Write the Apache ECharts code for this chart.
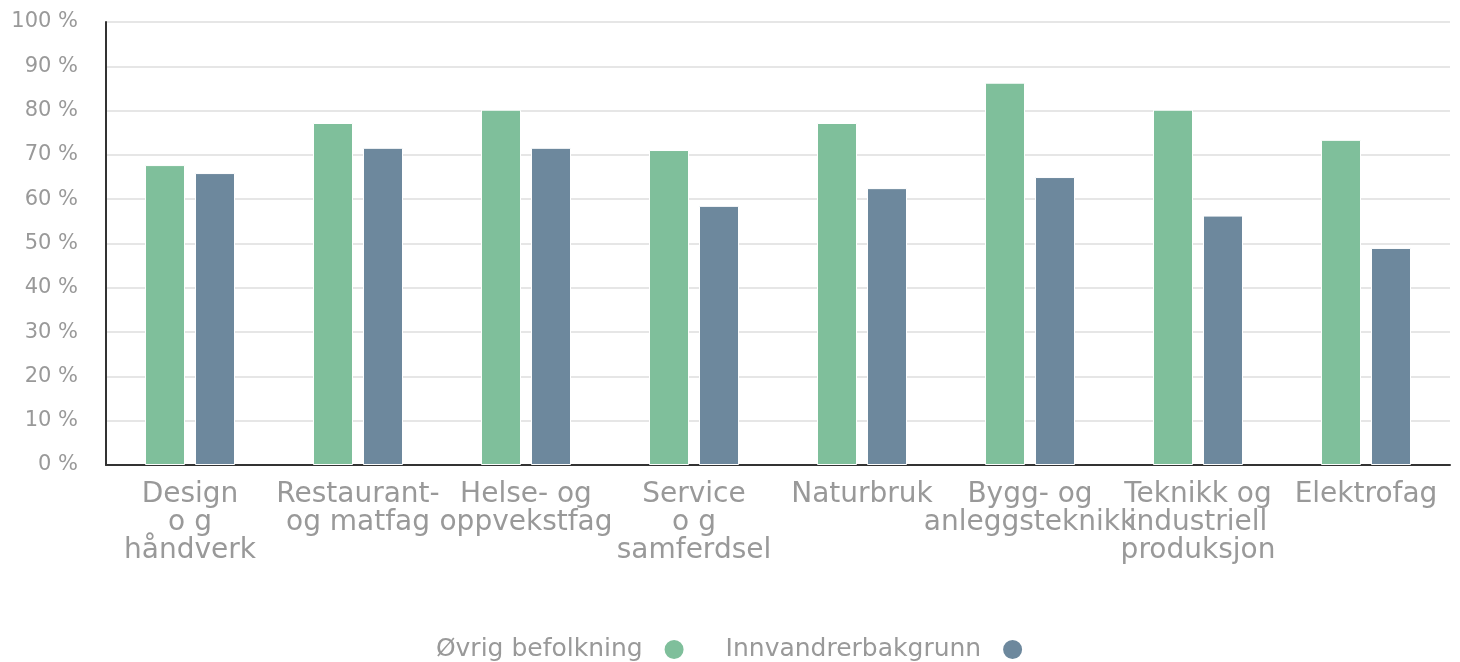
<!DOCTYPE html>
<html>
<head>
<meta charset="utf-8">
<script src="https://cdn.jsdelivr.net/npm/echarts@6/dist/echarts.min.js"></script>
<style>
  html, body { margin: 0; padding: 0; background: #fff; }
  #chart { width: 1460px; height: 662px; }
</style>
</head>
<body>
<div id="chart"></div>
<script>
// kategorier (linjeskift som i originalen)
const categories = [
    "Design\no g\nhåndverk",
    "Restaurant-\nog matfag",
    "Helse- og\noppvekstfag",
    "Service\no g\nsamferdsel",
    "Naturbruk",
    "Bygg- og\nanleggsteknikk",
    "Teknikk og\nindustriell\nproduksjon",
    "Elektrofag"
];
const seriesNames = ["Øvrig befolkning", "Innvandrerbakgrunn"];
const ovrigValues = [67.7, 77.2, 80.2, 71.1, 77.2, 86.3, 80.2, 73.4];
const innvandrerValues = [65.9, 71.6, 71.6, 58.5, 62.5, 65.0, 56.3, 49.0];

const chart = echarts.init(document.getElementById("chart"));
const labelFont = "'DejaVu Sans', sans-serif";

chart.setOption({
    backgroundColor: "#fff",
    animation: false,
    grid: {
        left: 106,
        right: 10,
        top: 22,
        bottom: 197,
        containLabel: false
    },
    legend: {
        data: seriesNames,
        left: "center",
        top: 632,
        align: "right",
        icon: "circle",
        itemWidth: 21,
        itemHeight: 21,
        itemGap: 40,
        formatter: (name) => name + "  ",
        textStyle: {
            color: "#999",
            fontSize: 25,
            fontFamily: labelFont
        }
    },
    xAxis: {
        type: "category",
        data: categories,
        axisTick: { show: false },
        axisLine: { lineStyle: { color: "#333", width: 2 } },
        axisLabel: {
            color: "#999",
            fontSize: 28,
            lineHeight: 28,
            fontFamily: labelFont,
            margin: 16,
            interval: 0
        }
    },
    yAxis: {
        type: "value",
        min: 0,
        max: 100,
        interval: 10,
        axisLine: { show: true, lineStyle: { color: "#333", width: 2 } },
        axisTick: { show: false },
        splitLine: { lineStyle: { color: "#e6e6e6", width: 2 } },
        axisLabel: {
            color: "#999",
            fontSize: 21,
            fontFamily: labelFont,
            margin: 28,
            formatter: (v) => v + " %"
        }
    },
    series: [
        {
            name: seriesNames[0],
            type: "bar",
            data: ovrigValues,
            barWidth: 40,
            barGap: "25%",
            itemStyle: { color: "#7fbf9b", borderColor: "#fff", borderWidth: 1 }
        },
        {
            name: seriesNames[1],
            type: "bar",
            data: innvandrerValues,
            barWidth: 40,
            itemStyle: { color: "#6d889d", borderColor: "#fff", borderWidth: 1 }
        }
    ]
});
</script>
</body>
</html>
